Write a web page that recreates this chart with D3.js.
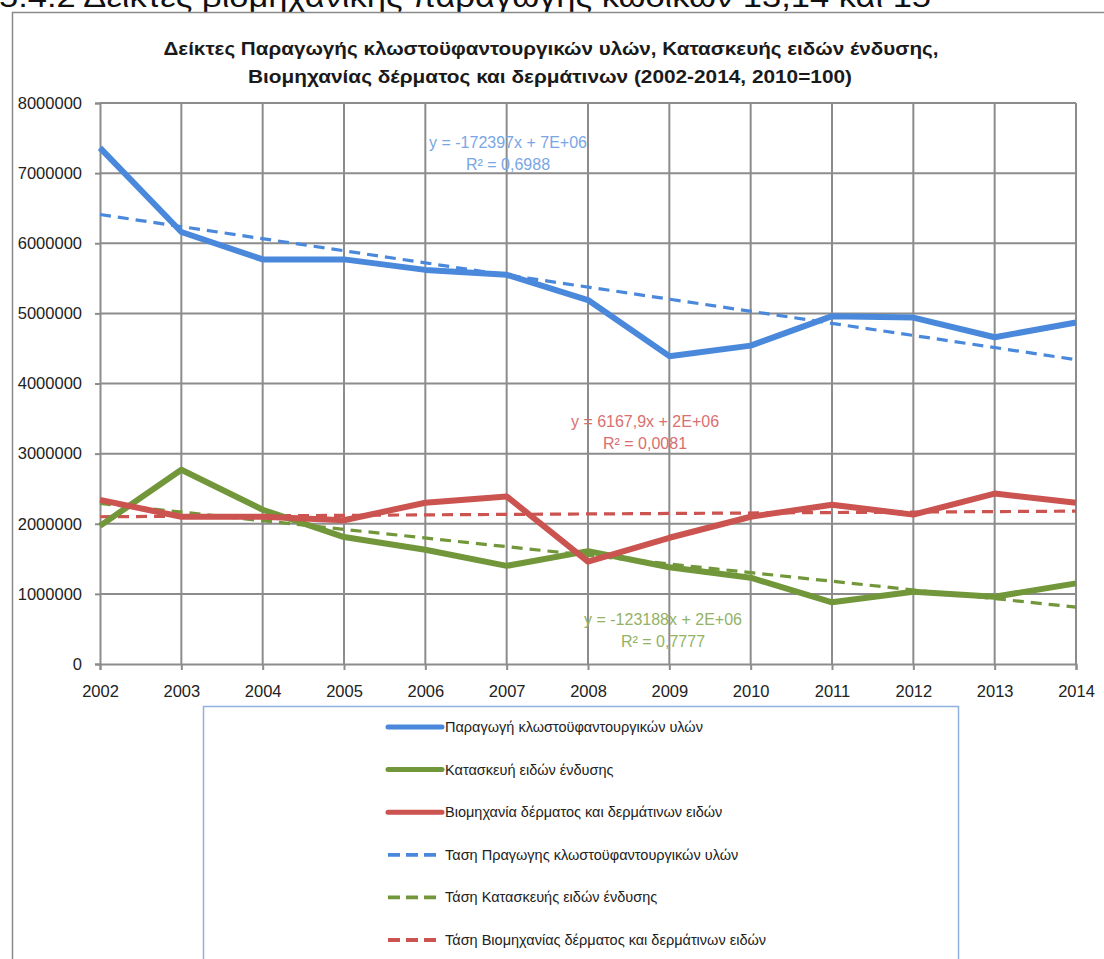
<!DOCTYPE html>
<html><head><meta charset="utf-8">
<script src="https://cdn.jsdelivr.net/npm/d3@7"></script>
<style>
body{margin:0;background:#fff;}
svg{display:block;}
text{font-family:"Liberation Sans",Arial,sans-serif;}
</style></head>
<body>
<svg id="c" width="1104" height="959"></svg>
<script>
const years = [2002,2003,2004,2005,2006,2007,2008,2009,2010,2011,2012,2013,2014];
const textiles = [7360000,6160000,5770000,5770000,5620000,5550000,5190000,4390000,4540000,4960000,4940000,4660000,4870000];
const clothing = [1970000,2770000,2200000,1810000,1630000,1400000,1610000,1380000,1230000,880000,1030000,960000,1150000];
const leather = [2340000,2100000,2100000,2050000,2300000,2390000,1460000,1800000,2100000,2270000,2130000,2430000,2300000];
// trend line end points (2002, 2014)
const trendTextiles = [6410000,4340000];
const trendClothing = [2290000,810000];
const trendLeather = [2100000,2180000];
const yTicks = [0,1000000,2000000,3000000,4000000,5000000,6000000,7000000,8000000];
const legendLabels = ["Παραγωγή κλωστοϋφαντουργικών υλών","Κατασκευή ειδών ένδυσης","Βιομηχανία δέρματος και δερμάτινων ειδών","Ταση Πραγωγης κλωστοϋφαντουργικών υλών","Τάση Κατασκευής ειδών ένδυσης","Τάση Βιομηχανίας δέρματος και δερμάτινων ειδών"];
const eqTexts = [["y = -172397x + 7E+06","R² = 0,6988"],["y = 6167,9x + 2E+06","R² = 0,0081"],["y = -123188x + 2E+06","R² = 0,7777"]];
const titleLines = ["Δείκτες Παραγωγής κλωστοϋφαντουργικών υλών, Κατασκευής ειδών ένδυσης,","Βιομηχανίας δέρματος και δερμάτινων (2002-2014, 2010=100)"];
const heading = "5.4.2  Δείκτες βιομηχανικής παραγωγής κωδικών 13,14 και 15";

const BLUE="#4a88dc", GREEN="#71973a", RED="#cb5350";
const svg = d3.select("#c");

// page heading (cut off at top)
svg.append("text").attr("x",-1).attr("y",7).attr("font-size",30)
  .attr("textLength",932).attr("lengthAdjust","spacingAndGlyphs").attr("fill","#111")
  .text(heading);

// chart frame
svg.append("path").attr("d","M12.5,959 L12.5,12.5 L1104,12.5").attr("fill","none").attr("stroke","#8a8a8a").attr("stroke-width",1.5);

// title
const title = svg.append("g").attr("font-weight","bold").attr("font-size",18).attr("fill","#1a1a1a").attr("text-anchor","middle");
title.append("text").attr("x",551).attr("y",55).attr("textLength",775).attr("lengthAdjust","spacingAndGlyphs").text(titleLines[0]);
title.append("text").attr("x",550).attr("y",83).attr("textLength",604).attr("lengthAdjust","spacingAndGlyphs").text(titleLines[1]);

const x = d3.scalePoint().domain(years).range([100,1076]);
const y = d3.scaleLinear().domain([0,8000000]).range([664,103]);

// gridlines
const grid = svg.append("g").attr("stroke","#8c8c8c").attr("stroke-width",2);
grid.selectAll("line.h").data(yTicks.slice(1)).join("line").attr("class","h")
  .attr("x1",100).attr("x2",1076).attr("y1",d=>y(d)).attr("y2",d=>y(d));
grid.selectAll("line.v").data(years.slice(1)).join("line").attr("class","v")
  .attr("x1",d=>x(d)).attr("x2",d=>x(d)).attr("y1",y(8000000)).attr("y2",y(0));

// axes
const yAxis = svg.append("g").attr("transform","translate(100,0)")
  .call(d3.axisLeft(y).tickValues(yTicks).tickFormat(d3.format("d")).tickSize(5).tickPadding(13));
const xAxis = svg.append("g").attr("transform","translate(0,664)")
  .call(d3.axisBottom(x).tickSize(6).tickPadding(15));
[yAxis,xAxis].forEach(a=>{
  a.select(".domain").attr("stroke","#8c8c8c").attr("stroke-width",2);
  a.selectAll(".tick line").attr("stroke","#8c8c8c").attr("stroke-width",2);
  a.selectAll("text").attr("font-size",16.5).attr("fill","#222");
});

// series
const line = d3.line().x((d,i)=>x(years[i])).y(d=>y(d));
const series = [[textiles,BLUE],[clothing,GREEN],[leather,RED]];
const trends = [[trendTextiles,BLUE],[trendClothing,GREEN],[trendLeather,RED]];
const tline = d3.line().x((d,i)=>x(i===0?years[0]:years[years.length-1])).y(d=>y(d));
trends.forEach(([v,c])=>{
  svg.append("path").attr("d",tline(v)).attr("fill","none").attr("stroke",c).attr("stroke-width",3.2).attr("stroke-dasharray","11,7");
});
series.forEach(([v,c])=>{
  svg.append("path").attr("d",line(v)).attr("fill","none").attr("stroke",c).attr("stroke-width",6).attr("stroke-linejoin","round");
});

// equations
const eqPos = [[508,148,"#79a6e6"],[645,427,"#d87070"],[663,625,"#93b265"]];
eqTexts.forEach((t,i)=>{
  const g = svg.append("g").attr("text-anchor","middle").attr("fill",eqPos[i][2]).attr("font-size",16);
  g.append("text").attr("x",eqPos[i][0]).attr("y",eqPos[i][1]).text(t[0]);
  g.append("text").attr("x",eqPos[i][0]).attr("y",eqPos[i][1]+22).text(t[1]);
});

// legend
svg.append("rect").attr("x",203.5).attr("y",706.5).attr("width",755).attr("height",270).attr("fill","#fff").attr("stroke","#8fb1de").attr("stroke-width",1.5);
const legendStyles = [[BLUE,null],[GREEN,null],[RED,null],[BLUE,"12,6"],[GREEN,"12,6"],[RED,"12,6"]];
const lg = svg.append("g");
legendLabels.forEach((lab,i)=>{
  const yy = 727 + i*42.6;
  lg.append("line").attr("x1",388).attr("x2",442).attr("y1",yy).attr("y2",yy)
    .attr("stroke",legendStyles[i][0]).attr("stroke-width",legendStyles[i][1]?3.8:5)
    .attr("stroke-linecap",legendStyles[i][1]?"butt":"round")
    .attr("stroke-dasharray",legendStyles[i][1]);
  lg.append("text").attr("x",445).attr("y",yy+5).attr("font-size",14.5).attr("fill","#222").text(lab);
});
</script>
</body></html>
